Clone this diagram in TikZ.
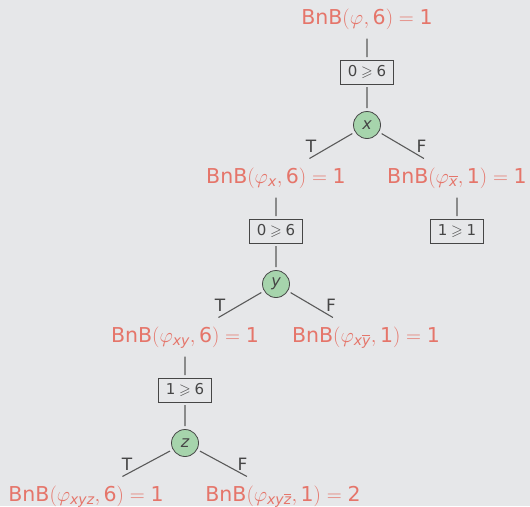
\documentclass[tikz,border=0pt]{standalone}
\usepackage{amssymb}
\usepackage[no-math]{fontspec}
\setmainfont{DejaVu Sans}

\definecolor{bg}{RGB}{230,231,233}
\definecolor{lbl}{RGB}{229,117,106}
\definecolor{ink}{RGB}{70,70,70}
\definecolor{wire}{RGB}{90,90,90}
\definecolor{var}{RGB}{166,212,172}

% small italic subscript letters
\newcommand\subl[1]{\hbox{\fontsize{14}{14}\selectfont\itshape #1}}
% BnB(phi_sub, k) = v  (sans word and digits, math brackets and relation)
\newcommand\bnbval[3]{BnB$(\varphi_{#1},\mbox{#2})=\mbox{#3}$}
% bound test a >= b
\newcommand\bound[2]{#1\hspace{0.25em}$\geqslant$\hspace{0.25em}#2}

\begin{document}
\begin{tikzpicture}[x=1pt,y=-1pt,
  lab/.style={text=lbl, font=\fontsize{20.5}{24}\selectfont, inner sep=2pt,
    outer sep=8.5pt, text height=14pt, text depth=4pt, anchor=base},
  test/.style={draw=ink, line width=0.8pt, text=ink, minimum width=53pt,
    minimum height=24pt, inner sep=0pt, outer sep=3pt,
    font=\fontsize{15}{18}\selectfont},
  vnode/.style={circle, draw=ink, line width=0.8pt, fill=var, text=ink,
    minimum size=27pt, inner sep=0pt, outer sep=3.5pt,
    font=\fontsize{16}{18}\selectfont\itshape},
  tf/.style={text=ink, font=\fontsize{17}{18}\selectfont, inner sep=0pt},
  wireline/.style={draw=wire, line width=1.1pt}]

\fill[bg] (0,0) rectangle (530,506);
\useasboundingbox (0,0) rectangle (530,506);

% level 0
\node[lab] (r) at (367,24) {\bnbval{}{6}{1}};
\node[test] (b1) at (367,72) {\bound{0}{6}};
\node[vnode] (x) at (367,125) {x};

% level 1
\node[lab] (lx) at (276,183) {\bnbval{\subl{x}}{6}{1}};
\node[lab] (lnx) at (457,183) {\bnbval{\overline{\subl{x}}}{1}{1}};
\node[test] (b2) at (276,231) {\bound{0}{6}};
\node[test] (b2r) at (457,231) {\bound{1}{1}};
\node[vnode] (y) at (276,284) {y};

% level 2
\node[lab] (lxy) at (185,342) {\bnbval{\subl{xy}}{6}{1}};
\node[lab] (lxny) at (366,342) {\bnbval{\subl{x}\overline{\subl{y}}}{1}{1}};
\node[test] (b3) at (185,390) {\bound{1}{6}};
\node[vnode] (z) at (185,443) {z};

% level 3
\node[lab] (lxyz) at (86,501) {\bnbval{\subl{xyz}}{6}{1}};
\node[lab] (lxynz) at (283,501) {\bnbval{\subl{xy}\overline{\subl{z}}}{1}{2}};

% branch labels
\node[tf] (tx) at (311,146) {T};
\node[tf] (fx) at (421.5,146) {F};
\node[tf] (ty) at (220,305) {T};
\node[tf] (fy) at (331,305) {F};
\node[tf] (tz) at (127,464.5) {T};
\node[tf] (fz) at (242.5,464.5) {F};

% connectors
\path[wireline]
  (r) -- (b1) (b1) -- (x)
  (x) -- (lx) (x) -- (lnx)
  (lx) -- (b2) (b2) -- (y)
  (lnx) -- (b2r)
  (y) -- (lxy) (y) -- (lxny)
  (lxy) -- (b3) (b3) -- (z)
  (z) -- (lxyz) (z) -- (lxynz);
\end{tikzpicture}
\end{document}
